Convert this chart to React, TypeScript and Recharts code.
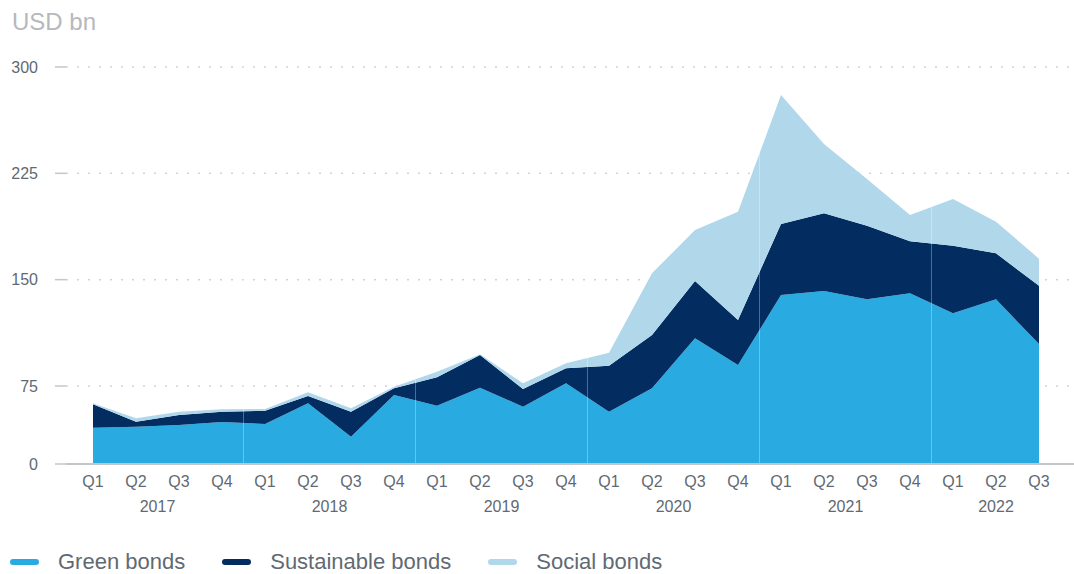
import React from 'react';
import { AreaChart, Area, XAxis, YAxis, CartesianGrid, ReferenceLine, Legend } from 'recharts';

const quarters = ['Q1','Q2','Q3','Q4','Q1','Q2','Q3','Q4','Q1','Q2','Q3','Q4','Q1','Q2','Q3','Q4','Q1','Q2','Q3','Q4','Q1','Q2','Q3'];
const years = ['2017', '2018', '2019', '2020', '2021', '2022'];
const yearTickPositions = [1.5, 5.5, 9.5, 13.5, 17.5, 21];
const yearBoundaries = [3.5, 7.5, 11.5, 15.5, 19.5];
const yTicks = [0, 75, 150, 225, 300];

const greenBonds = [34.9, 35.9, 37.5, 40.4, 38.5, 58.4, 26.2, 66.3, 56.1, 73.4, 55.1, 76.9, 50.3, 72.8, 108.6, 89.8, 139.2, 142.0, 136.1, 140.4, 126.3, 136.1, 104.6];
const sustainableBonds = [22.5, 4.8, 9.6, 9.9, 12.7, 7.0, 24.1, 6.5, 25.0, 23.5, 17.0, 10.6, 39.0, 38.2, 40.5, 31.7, 50.1, 54.8, 52.0, 36.7, 47.7, 32.5, 41.1];
const socialBonds = [1.0, 3.2, 3.2, 2.3, 1.7, 3.5, 3.3, 1.5, 4.0, 0.5, 4.8, 3.5, 9.2, 43.5, 35.9, 76.4, 90.9, 48.9, 32.9, 18.5, 32.9, 22.3, 19.1];

const data = quarters.map((q, i) => ({
  idx: i,
  green: greenBonds[i],
  sustainable: sustainableBonds[i],
  social: socialBonds[i],
}));

const COLORS = { green: '#29ABE2', sustainable: '#032D60', social: '#B1D7EB' };
const TEXT = '#5f6a72';
const FONT = '"Liberation Sans", Arial, sans-serif';

// Piecewise-linear value axis (the reference compresses the 0–75 band)
function piecewiseScale(): any {
  let dom: number[] = [0, 300];
  let rng: number[] = [0, 1];
  const BREAK = 75;
  const FRAC = 78 / 397;
  const s: any = (v: number) => {
    const d0 = dom[0];
    const d1 = dom[dom.length - 1];
    let t: number;
    if (v <= BREAK) t = ((v - d0) / (BREAK - d0)) * FRAC;
    else t = FRAC + ((v - BREAK) / (d1 - BREAK)) * (1 - FRAC);
    return rng[0] + t * (rng[rng.length - 1] - rng[0]);
  };
  s.domain = (d?: any) => {
    if (d === undefined) return dom.slice();
    dom = Array.from(d).map(Number);
    return s;
  };
  s.range = (r?: any) => {
    if (r === undefined) return rng.slice();
    rng = Array.from(r).map(Number);
    return s;
  };
  s.invert = (y: number) => {
    const t = (y - rng[0]) / (rng[rng.length - 1] - rng[0]);
    const d0 = dom[0];
    const d1 = dom[dom.length - 1];
    if (t <= FRAC) return d0 + (t / FRAC) * (BREAK - d0);
    return BREAK + ((t - FRAC) / (1 - FRAC)) * (d1 - BREAK);
  };
  s.copy = () => piecewiseScale().domain(dom).range(rng);
  s.ticks = () => yTicks.slice();
  s.tickFormat = () => (v: number) => String(v);
  s.nice = () => s;
  s.clamp = () => s;
  return s;
}

const renderLegend = () => {
  const items = [
    { label: 'Green bonds', color: COLORS.green },
    { label: 'Sustainable bonds', color: COLORS.sustainable },
    { label: 'Social bonds', color: COLORS.social },
  ];
  return (
    <div style={{ display: 'flex', alignItems: 'center', height: 24, paddingLeft: 10 }}>
      {items.map((it) => (
        <div key={it.label} style={{ display: 'flex', alignItems: 'center', marginRight: 37 }}>
          <span style={{ display: 'inline-block', width: 29, height: 6, borderRadius: 3, background: it.color, marginRight: 19 }} />
          <span style={{ fontFamily: FONT, fontSize: 22, color: TEXT, lineHeight: '24px', whiteSpace: 'nowrap' }}>{it.label}</span>
        </div>
      ))}
    </div>
  );
};

export default function App() {
  return (
    <div style={{ position: 'absolute', left: 0, top: 0, width: 1074, height: 574, background: '#fff', fontFamily: FONT }}>
      <div style={{ position: 'absolute', left: 12, top: 8, fontSize: 24, color: '#b5b9bc', fontFamily: FONT, lineHeight: '28px' }}>USD bn</div>
      <AreaChart
        width={1074}
        height={574}
        data={data}
        margin={{ top: 67, right: 0, left: 0, bottom: 0 }}
      >
        <CartesianGrid horizontal vertical={false} stroke="#cfd3d6" strokeWidth={1.5} strokeDasharray="2 9" />
        <XAxis
          dataKey="idx"
          type="number"
          domain={[0, 22]}
          ticks={quarters.map((_, i) => i)}
          tickFormatter={(v: number) => quarters[v] ?? ''}
          padding={{ left: 27, right: 35 }}
          interval={0}
          axisLine={{ stroke: '#c3c7ca', strokeWidth: 2 }}
          tickLine={false}
          tickSize={0}
          tickMargin={12}
          height={30}
          tick={{ fill: TEXT, fontSize: 16, fontFamily: FONT }}
        />
        <XAxis
          xAxisId="year"
          dataKey="idx"
          type="number"
          domain={[0, 22]}
          ticks={yearTickPositions}
          tickFormatter={(v: number) => years[yearTickPositions.indexOf(v)] ?? ''}
          padding={{ left: 27, right: 35 }}
          interval={0}
          axisLine={false}
          tickLine={false}
          tickSize={0}
          tickMargin={7}
          height={56}
          allowDataOverflow
          tick={{ fill: TEXT, fontSize: 16, fontFamily: FONT }}
        />
        <YAxis
          type="number"
          domain={[0, 300]}
          ticks={yTicks}
          scale={piecewiseScale()}
          width={66}
          axisLine={false}
          tickLine={{ stroke: '#c3c7ca', strokeWidth: 1.5 }}
          tickSize={11}
          tickMargin={17}
          interval={0}
          tick={{ fill: TEXT, fontSize: 16, fontFamily: FONT }}
        />
        <Area type="linear" dataKey="green" stackId="a" stroke="none" fill={COLORS.green} fillOpacity={1} isAnimationActive={false} name="Green bonds" />
        <Area type="linear" dataKey="sustainable" stackId="a" stroke="none" fill={COLORS.sustainable} fillOpacity={1} isAnimationActive={false} name="Sustainable bonds" />
        <Area type="linear" dataKey="social" stackId="a" stroke="none" fill={COLORS.social} fillOpacity={1} isAnimationActive={false} name="Social bonds" />
        {yearBoundaries.map((b) => (
          <ReferenceLine key={b} x={b} stroke="rgba(255,255,255,0.3)" strokeWidth={1} />
        ))}
        <Legend verticalAlign="bottom" align="left" content={renderLegend} wrapperStyle={{ bottom: 0, left: 0, height: 24 }} />
      </AreaChart>
    </div>
  );
}
